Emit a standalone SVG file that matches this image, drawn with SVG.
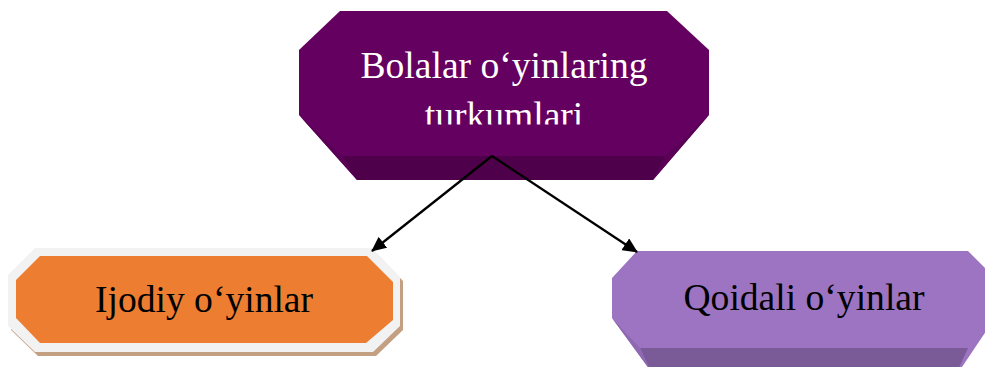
<svg xmlns="http://www.w3.org/2000/svg" width="985" height="367" viewBox="0 0 985 367">
<defs>
<style>
.t{font-family:"Liberation Serif","Times New Roman",serif;font-size:37.6px;text-anchor:middle}
.conn{stroke:#000;stroke-width:2.3;fill:none}
</style>
<marker id="ah" markerWidth="16" markerHeight="14" refX="14" refY="7" orient="auto" markerUnits="userSpaceOnUse">
<path d="M0,0 L15,7 L0,14 Z" fill="#000"/>
</marker>
<clipPath id="clipTop"><rect x="290" y="0" width="430" height="124.5"/></clipPath>
</defs>
<rect width="985" height="367" fill="#fff"/>
<g id="node-top">
<polygon points="340,11 667,11 709,50 709,115 653,180 357,180 299,115 299,50" fill="#640060"/>
<polygon points="342,156 665,156 653,180 357,180" fill="#4F004A"/>
<polygon points="299,115 342,156 357,180" fill="#5A0056"/>
<polygon points="709,115 665,156 653,180" fill="#5A0056"/>
<g clip-path="url(#clipTop)">
<text class="t" x="504" y="78" fill="#fff">Bolalar o‘yinlaring</text>
<text class="t" x="504" y="128" fill="#fff">turkumlari</text>
</g>
</g>
<g id="node-left">
<polygon points="38,252 375,252 403,281 403,330 376,356 38,356 11,330 11,279" fill="#C4A083"/>
<polygon points="35,248 372,248 400,277 400,326 373,352 35,352 8,326 8,275" fill="#F2F2F2"/>
<polygon points="40,256 367,256 393,282 393,320 366,343 40,343 16,318 16,280" fill="#ED7D31"/>
<text class="t" x="204" y="312" fill="#000">Ijodiy o‘yinlar</text>
</g>
<g id="node-right">
<polygon points="637,251 968,251 995,278 995,318 960,370 650,370 612,318 612,278" fill="#9D74C1"/>
<polygon points="640,348 968,348 958,370 650,370" fill="#7B5A98"/>
<polygon points="612,318 640,348 650,370" fill="#8F68B4"/>
<text class="t" x="804" y="310" fill="#000">Qoidali o‘yinlar</text>
</g>
<g id="connectors">
<line class="conn" x1="492" y1="156" x2="372" y2="251" marker-end="url(#ah)"/>
<line class="conn" x1="492" y1="156" x2="637" y2="252" marker-end="url(#ah)"/>
</g>
</svg>
